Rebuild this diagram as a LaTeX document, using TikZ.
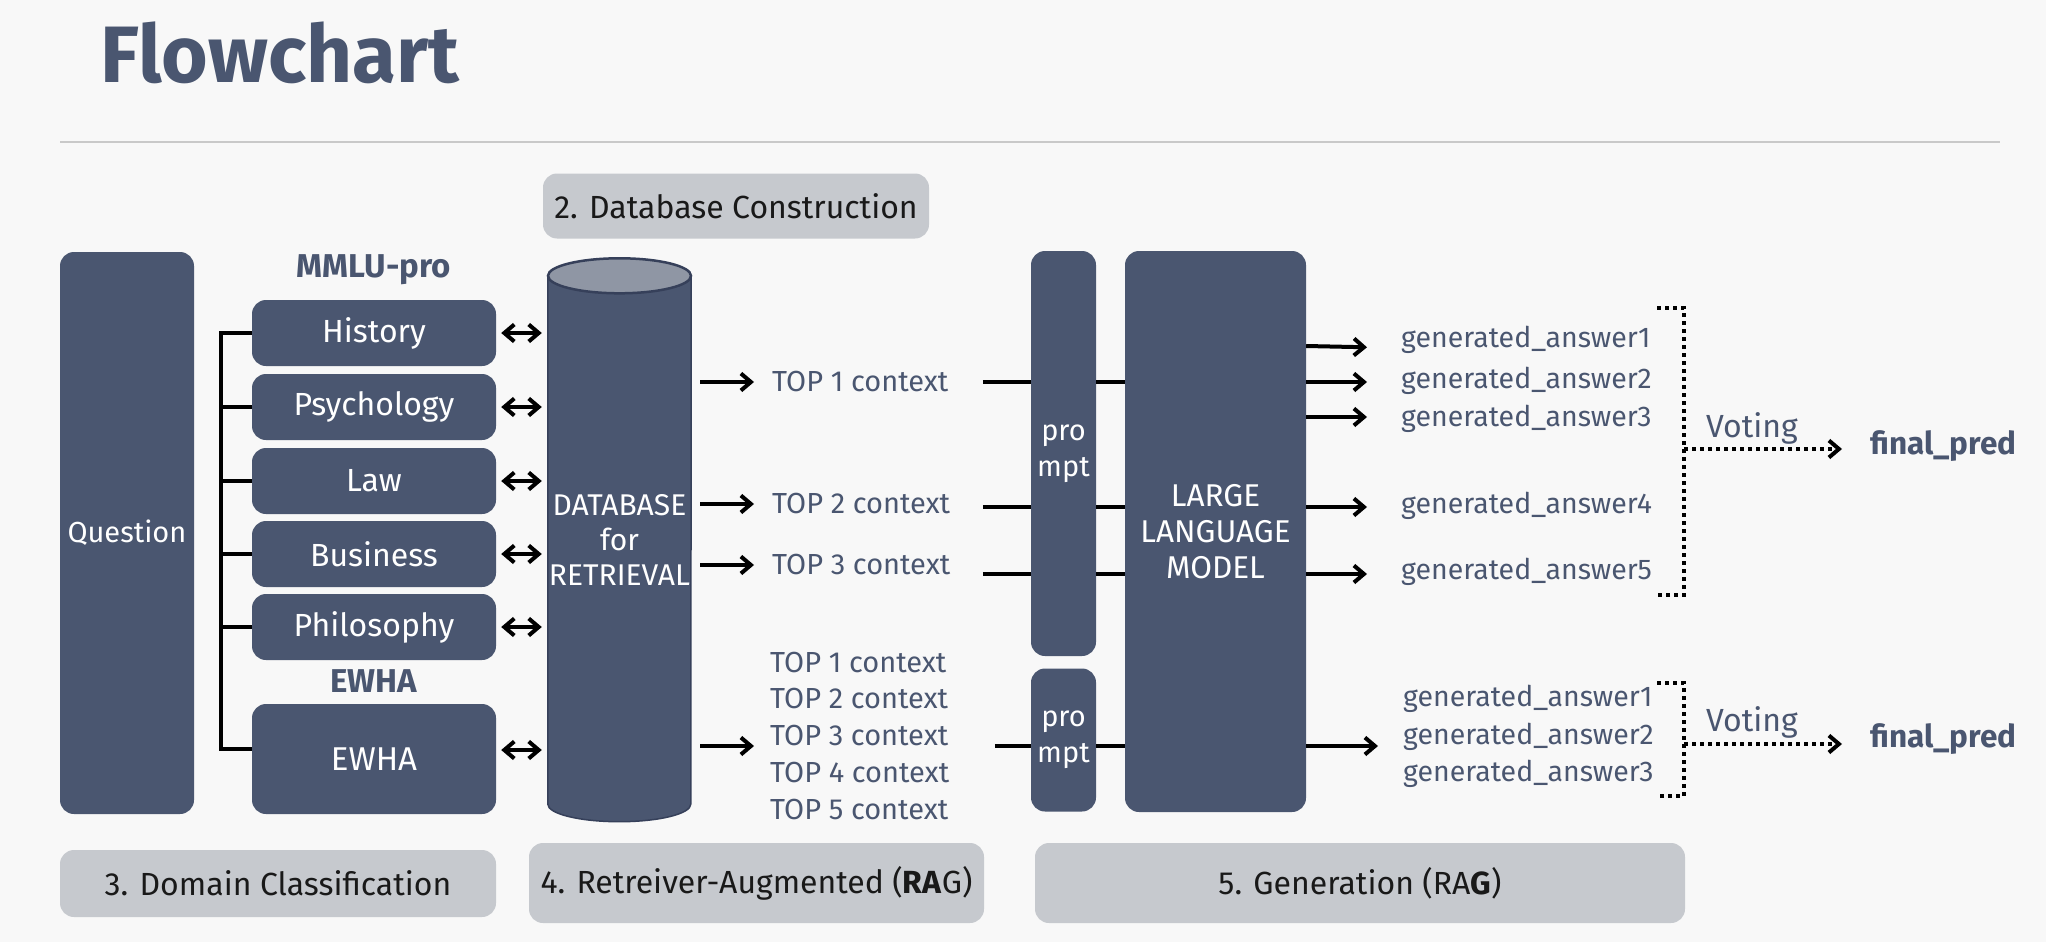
\documentclass[tikz,border=0pt]{standalone}
\usepackage{fontspec}
\setmainfont{Fira Sans}
\usepackage{xcolor}
\usepackage{tikz}
\usetikzlibrary{arrows.meta,positioning,calc}

\definecolor{slate}{HTML}{4A5670}
\definecolor{slatetop}{HTML}{8F96A4}
\definecolor{slateedge}{HTML}{36405A}
\definecolor{stagegray}{HTML}{C6C9CE}
\definecolor{pagebg}{HTML}{F8F8F8}
\definecolor{rulegray}{HTML}{C9C9C9}

\tikzset{
	darkbox/.style = {
			rectangle,
			rounded corners = 14pt,
			fill            = slate,
			text            = white,
			inner sep       = 0pt,
			align           = center,
			font            = {\fontsize{29}{36}\selectfont},
		},
	stagebox/.style = {
			rectangle,
			rounded corners = 14pt,
			fill            = stagegray,
			text            = black!90,
			inner sep       = 0pt,
			font            = {\fontsize{32}{38}\selectfont},
		},
	txt/.style = {
			text      = slate,
			inner sep = 0pt,
			font      = {\fontsize{29}{35}\selectfont},
		},
	heading/.style = {
			text      = slate,
			inner sep = 0pt,
			font      = {\fontsize{33}{38}\selectfont\bfseries},
		},
	link/.style      = {draw=black, line width=4pt},
	fwd/.style       = {link, -{Straight Barb[length=10pt,width=17pt]}},
	twoway/.style    = {link, {Straight Barb[length=10pt,width=17pt]}-{Straight Barb[length=10pt,width=17pt]}},
	dotline/.style   = {link, dash pattern=on 4pt off 4pt},
	votearrow/.style = {dotline, -{Straight Barb[length=10pt,width=17pt]}},
}

\begin{document}
\begin{tikzpicture}[x=1pt, y=-1pt]
	\fill[pagebg] (0,0) rectangle (2046,942);
	\useasboundingbox (0,0) rectangle (2046,942);

	% title
	\node[anchor=base west, inner sep=0pt, text=slate, font={\fontsize{80}{92}\selectfont\bfseries}] (title) at (100,82) {Flowchart};
	\draw[rulegray, line width=2pt] (60,142) -- (2000,142);

	\node[stagebox, minimum width=386pt, minimum height=65pt] (dbcon) at (736,206) {2. Database Construction};

	% domain classification
	\node[darkbox, minimum width=134pt, minimum height=562pt] (question) at (127,533) {Question};
	\node[heading] (mmlu) at (374,270) {MMLU-pro};
	\foreach \name/\lbl/\yy in {hist/History/333, psy/Psychology/407, law/Law/481, bus/Business/554, phil/Philosophy/627}
		\node[darkbox, minimum width=244pt, minimum height=66pt, font={\fontsize{32}{38}\selectfont}] (\name) at (374,\yy) {\lbl};
	\node[heading] (ewhalbl) at (374,681) {EWHA};
	\node[darkbox, minimum width=244pt, minimum height=110pt, font={\fontsize{33}{38}\selectfont}] (ewha) at (374,759) {EWHA};

	\draw[link] (hist.west) -- ++(-31,0) |- ([yshift=10pt]ewha.west);
	\foreach \name in {psy,law,bus,phil}
		\draw[link] (\name.west) -- ++(-31,0);

	% database
	\node[fill=slate, minimum width=143pt, minimum height=528pt, inner sep=0pt, text=white, align=center, font={\fontsize{30}{35}\selectfont}] (db) at (619.5,540) {DATABASE\\for\\RETRIEVAL};
	\fill[slate] (db.south west) arc[start angle=180, end angle=360, x radius=71.5pt, y radius=17.5pt] -- cycle;
	\draw[slateedge, line width=1.5pt] (db.north west) -- (db.south west) arc[start angle=180, end angle=360, x radius=71.5pt, y radius=17.5pt] -- (db.north east);
	\draw[fill=slatetop, draw=slateedge, line width=2.5pt] (db.north) ellipse [x radius=71.5pt, y radius=17.5pt];

	\foreach \name in {hist,psy,law,bus,phil}
		\draw[twoway, shorten <=5pt, shorten >=6pt] (\name.east) -- (\name.east -| db.west);
	\draw[twoway, shorten <=5pt, shorten >=6pt] ([yshift=9pt]ewha.east) -- ([yshift=9pt]ewha.east -| db.west);

	% retrieved contexts
	\coordinate (ra) at (0,382);
	\coordinate (rb) at (0,507);
	\coordinate (rc) at (0,574);
	\coordinate (rd) at (0,746);
	\foreach \name/\i/\yy in {ta/1/382, tb/2/504, tc/3/565}
		\node[txt, anchor=west] (\name) at (772,\yy) {TOP \i\ context};
	\foreach \i/\yy in {1/663, 2/699, 3/736, 4/773, 5/810}
		\node[txt, anchor=west] (td\i) at (770,\yy) {TOP \i\ context};

	\foreach \name in {ta,tb,tc}
		\draw[fwd, shorten <=9pt, shorten >=18pt] (db.east |- \name) -- (\name.west);
	\draw[fwd, shorten <=9pt, shorten >=16pt] (db.east |- rd) -- (td3.west |- rd);

	% generation
	\node[darkbox, minimum width=65pt, minimum height=405pt] (p1) at (1063.5,453.5) {pro\\mpt};
	\node[darkbox, minimum width=65pt, minimum height=143pt] (p2) at (1063.5,740) {pro\\mpt};
	\node[darkbox, minimum width=181pt, minimum height=561pt, font={\fontsize{31.5}{36}\selectfont}] (llm) at (1215.5,531.5) {LARGE\\LANGUAGE\\MODEL};

	\foreach \r in {ra,rb,rc}
		{
			\draw[link] ($(p1.west |- \r)+(-48,0)$) -- (p1.west |- \r);
			\draw[link] (p1.east |- \r) -- (llm.west |- \r);
		}
	\draw[link] ($(p2.west |- rd)+(-36,0)$) -- (p2.west |- rd);
	\draw[link] (p2.east |- rd) -- (llm.west |- rd);

	\foreach \i/\yy in {1/340, 2/381, 3/419, 4/506, 5/572}
		\node[txt, anchor=west, font={\fontsize{28.5}{35}\selectfont}] (ga\i) at (1401,\yy) {generated\_answer\i};
	\foreach \i/\yy in {1/699, 2/737, 3/774}
		\node[txt, anchor=west, font={\fontsize{28.5}{35}\selectfont}] (gb\i) at (1403,\yy) {generated\_answer\i};

	\draw[fwd, shorten >=34pt] (llm.east |- 0,346) -- (ga1.west |- 0,348);
	\draw[fwd, shorten >=34pt] (llm.east |- ra) -- (ga2.west |- ra);
	\draw[fwd, shorten >=34pt] (llm.east |- 0,417) -- (ga3.west |- 0,417);
	\draw[fwd, shorten >=34pt] (llm.east |- rb) -- (ga4.west |- rb);
	\draw[fwd, shorten >=34pt] (llm.east |- rc) -- (ga5.west |- rc);
	\draw[fwd, shorten >=25pt] (llm.east |- rd) -- (gb2.west |- rd);

	% voting
	\coordinate (v1top) at (1684,308);
	\coordinate (v1bot) at (1684,595);
	\coordinate (vote1) at (1684,449);
	\coordinate (v2top) at (1684,683);
	\coordinate (v2bot) at (1684,796);
	\coordinate (vote2) at (1684,744);
	\node[heading, font={\fontsize{31.5}{36}\selectfont\bfseries}, anchor=west] (fp1) at (1870,446) {final\_pred};
	\node[heading, font={\fontsize{31.5}{36}\selectfont\bfseries}, anchor=west] (fp2) at (1870,739) {final\_pred};
	\node[txt, font={\fontsize{32}{36}\selectfont}] (vt1) at (1752,428) {Voting};
	\node[txt, font={\fontsize{32}{36}\selectfont}] (vt2) at (1752,722) {Voting};

	\draw[dotline] ($(v1top)+(-27,0)$) -- (v1top) -- (v1bot) -- ++(-27,0);
	\draw[dotline] ($(v2top)+(-27,0)$) -- (v2top) -- (v2bot) -- ++(-27,0);
	\draw[votearrow, shorten >=28pt] (vote1) -- (vote1 -| fp1.west);
	\draw[votearrow, shorten >=28pt] (vote2) -- (vote2 -| fp2.west);

	% stages
	\node[stagebox, minimum width=436pt, minimum height=67pt] (dom) at (278,883.5) {3. Domain Classification};
	\node[stagebox, minimum width=455pt, minimum height=80pt] (rag) at (756.5,883) {4. Retreiver-Augmented (\textbf{RA}G)};
	\node[stagebox, minimum width=650pt, minimum height=80pt] (gen) at (1360,883) {5. Generation (RA\textbf{G})};
\end{tikzpicture}
\end{document}
